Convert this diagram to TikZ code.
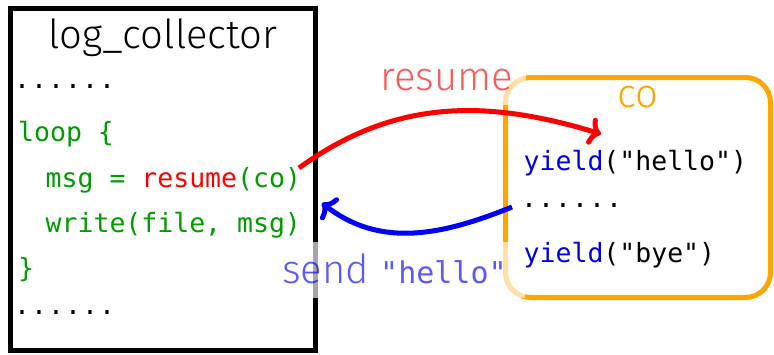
\documentclass[tikz,border=0pt]{standalone}
\usepackage{fontspec}
\setmonofont{DejaVu Sans Mono}
\newfontfamily\lsans{Fira Sans Light}
\usetikzlibrary{arrows.meta}
\definecolor{codegreen}{RGB}{0,155,0}
\definecolor{kwred}{RGB}{255,0,0}
\definecolor{kwblue}{RGB}{0,0,235}
\definecolor{boxorange}{RGB}{255,165,0}
\newcommand{\mycode}{\ttfamily\fontsize{26.5pt}{30pt}\selectfont}
\newcommand{\mysans}{\lsans\fontsize{40pt}{46pt}\selectfont}
\newcommand{\mylabelmono}{\ttfamily\fontsize{30pt}{32pt}\selectfont}
\newcommand{\onedot}{\makebox[17pt][c]{.}}
\newcommand{\dotrow}{\onedot\onedot\onedot\onedot\onedot\onedot}
\begin{document}
\begin{tikzpicture}[x=1pt,y=-1pt,
  code/.style={anchor=base west, inner sep=0pt, font=\mycode},
  dotline/.style={anchor=base west, inner sep=0pt, font=\mycode},
  heading/.style={anchor=base, inner sep=0pt, font=\mysans},
  lbl/.style={anchor=base, fill=white, fill opacity=0.65, text opacity=0.65, font=\mysans, inner ysep=0pt},
  arrowline/.style={line width=5pt, -{Computer Modern Rightarrow[length=12pt,width=28pt,round]}}
]
\useasboundingbox (0,0) rectangle (774,354);

% left box
\node[draw=black, line width=5pt, minimum width=305pt, minimum height=342pt, inner sep=0pt] (lc) at (163,179.5) {};
\node[heading] (title) at (163,48) {log\_collector};
\node[dotline] (l1) at (13.5,88) {\dotrow};
\node[code, text=codegreen] (l2) at (18,141) {loop \{};
\node[code, text=codegreen] (l3) at (45.5,187) {msg = \textcolor{kwred}{resume}(co)};
\node[code, text=codegreen] (l4) at (45.5,232) {write(file, msg)};
\node[code, text=codegreen] (l5) at (18,277) {\}};
\node[dotline] (l6) at (13.5,314) {\dotrow};

% right box
\node[draw=boxorange, line width=5pt, rounded corners=25pt, minimum width=265pt, minimum height=220pt, inner sep=0pt] (co) at (638,187.5) {};
\node[heading, text=boxorange] (cotitle) at (638,107) {co};
\node[code] (r1) at (523.5,170) {\textcolor{kwblue}{yield}("hello")};
\node[dotline] (r2) at (520.5,207) {\dotrow};
\node[code] (r3) at (523.5,262) {\textcolor{kwblue}{yield}("bye")};

% arrows
\coordinate (rs) at (299,168);
\coordinate (re) at (601,134);
\coordinate (bs) at (512,207);
\coordinate (be) at (322,203);
\draw[arrowline, kwred] (rs) to[out=36,in=163] (re);
\draw[arrowline, blue] (bs) to[out=202,in=-38] (be);

% labels
\node[lbl, text=red, inner xsep=13pt, text height=42pt, text depth=15pt] (resumelbl) at (447,90) {resume};
\node[lbl, text=blue, inner xsep=18pt, text height=41pt, text depth=15pt] (sendlbl) at (394.5,283) {send {\mylabelmono"hello"}};
\end{tikzpicture}
\end{document}
